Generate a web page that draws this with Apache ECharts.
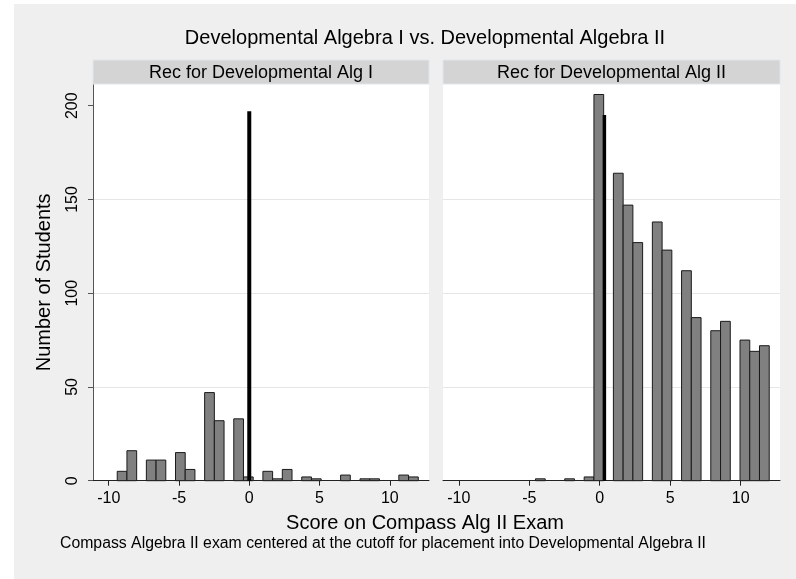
<!DOCTYPE html>
<html>
<head>
<meta charset="utf-8">
<script src="https://cdn.jsdelivr.net/npm/echarts@6/dist/echarts.min.js"></script>
<style>
html, body { margin: 0; padding: 0; background: #fff; }
#main { width: 796px; height: 579px; }
</style>
</head>
<body>
<div id="main"></div>
<script>
// histogram bins (same bins in both panels)
const binStart = -9.395;
const binWidth = 0.691;
const countsAlgI  = [5,16,0,11,11,0,15,6,0,47,32,0,33,2,0,5,1,6,0,2,1,0,0,3,0,1,1,0,0,3,2];
const countsAlgII = [0,0,0,0,0,0,0,1,0,0,1,0,2,206,0,164,147,127,0,138,123,0,112,87,0,80,85,0,75,69,72];
// cutoff spikes: [x, height]
const cutoffAlgI  = [0, 197];
const cutoffAlgII = [0.33, 195];
const panelTitles = ['Rec for Developmental Alg I', 'Rec for Developmental Alg II'];
const xTicks = [-10, -5, 0, 5, 10];
const yTicks = [0, 50, 100, 150, 200];

const FONT = '"Liberation Sans", Arial, sans-serif';

function toBins(counts) {
  return counts.map(function (n, i) {
    return [binStart + i * binWidth, binStart + (i + 1) * binWidth, n];
  });
}

function renderBar(params, api) {
  const n = api.value(2);
  if (!n) return;
  const p0 = api.coord([api.value(0), n]);
  const p1 = api.coord([api.value(1), 0]);
  return {
    type: 'rect',
    shape: { x: p0[0], y: p0[1], width: p1[0] - p0[0], height: p1[1] - p0[1] },
    style: { fill: '#808080', stroke: '#1a1a1a', lineWidth: 1 }
  };
}

function xAxisFor(idx) {
  return {
    gridIndex: idx,
    type: 'value',
    min: -11.12,
    max: 12.79,
    axisLine: { show: true, onZero: false, lineStyle: { color: '#222', width: 1 } },
    axisTick: { show: true, customValues: xTicks, length: 5, lineStyle: { color: '#222' } },
    axisLabel: { customValues: xTicks, color: '#000', fontSize: 16, fontFamily: FONT, margin: 10 },
    splitLine: { show: false }
  };
}

function yAxisFor(idx) {
  const first = idx === 0;
  return {
    gridIndex: idx,
    type: 'value',
    min: 0,
    max: 211.6,
    interval: 50,
    axisLine: { show: first, onZero: false, lineStyle: { color: '#555', width: 1 } },
    axisTick: { show: first, customValues: yTicks, length: 5, lineStyle: { color: '#555' } },
    axisLabel: { show: first, customValues: yTicks, rotate: 90, color: '#000', fontSize: 16, fontFamily: FONT, margin: 12 },
    splitLine: { show: true, showMaxLine: false, lineStyle: { color: '#e6e6e6', width: 1 } },
    name: first ? 'Number of Students' : '',
    nameLocation: 'middle',
    nameRotate: 90,
    nameGap: 39,
    nameTextStyle: { color: '#000', fontSize: 20, fontFamily: FONT }
  };
}

function stripGraphic(x, w, text) {
  return [{
    type: 'rect',
    shape: { x: x, y: 60, width: w, height: 24 },
    style: { fill: '#d4d4d4', stroke: '#dfe7ec', lineWidth: 1 },
    z: 10
  }, {
    type: 'text',
    x: x + w / 2,
    y: 73,
    style: { text: text, fill: '#000', font: '18px ' + FONT, textAlign: 'center', textVerticalAlign: 'middle' },
    z: 11
  }];
}

const myChart = echarts.init(document.getElementById('main'), null, { renderer: 'canvas' });

const option = {
  backgroundColor: '#ffffff',
  animation: false,
  title: [
    { text: 'Developmental Algebra I vs. Developmental Algebra II', left: 420, top: 23, textAlign: 'center',
      textStyle: { color: '#000', fontSize: 20, fontWeight: 'normal', fontFamily: FONT } },
    { text: 'Score on Compass Alg II Exam', left: 420, top: 508, textAlign: 'center',
      textStyle: { color: '#000', fontSize: 20, fontWeight: 'normal', fontFamily: FONT } },
    { text: 'Compass Algebra II exam centered at the cutoff for placement into Developmental Algebra II', left: 55, top: 531,
      textStyle: { color: '#000', fontSize: 15.8, fontWeight: 'normal', fontFamily: FONT } }
  ],
  graphic: [
    { type: 'rect', shape: { x: 14, y: 4, width: 782, height: 575 }, style: { fill: '#efefef' }, z: -10 }
  ].concat(stripGraphic(93, 336, panelTitles[0]), stripGraphic(443, 337, panelTitles[1])),
  grid: [
    { left: 93, top: 84, width: 336, height: 396.7, show: true, backgroundColor: '#fff', borderWidth: 0 },
    { left: 443, top: 84, width: 337, height: 396.7, show: true, backgroundColor: '#fff', borderWidth: 0 }
  ],
  xAxis: [xAxisFor(0), xAxisFor(1)],
  yAxis: [yAxisFor(0), yAxisFor(1)],
  series: [
    { type: 'custom', xAxisIndex: 0, yAxisIndex: 0, renderItem: renderBar, data: toBins(countsAlgI),
      encode: { x: [0, 1], y: 2 }, z: 2 },
    { type: 'custom', xAxisIndex: 1, yAxisIndex: 1, renderItem: renderBar, data: toBins(countsAlgII),
      encode: { x: [0, 1], y: 2 }, z: 2 },
    { type: 'line', xAxisIndex: 0, yAxisIndex: 0, symbol: 'none', z: 3,
      data: [[cutoffAlgI[0], 0], [cutoffAlgI[0], cutoffAlgI[1]]],
      lineStyle: { color: '#000', width: 4 } },
    { type: 'line', xAxisIndex: 1, yAxisIndex: 1, symbol: 'none', z: 3,
      data: [[cutoffAlgII[0], 0], [cutoffAlgII[0], cutoffAlgII[1]]],
      lineStyle: { color: '#000', width: 3.5 } }
  ]
};

option && myChart.setOption(option);
</script>
</body>
</html>
